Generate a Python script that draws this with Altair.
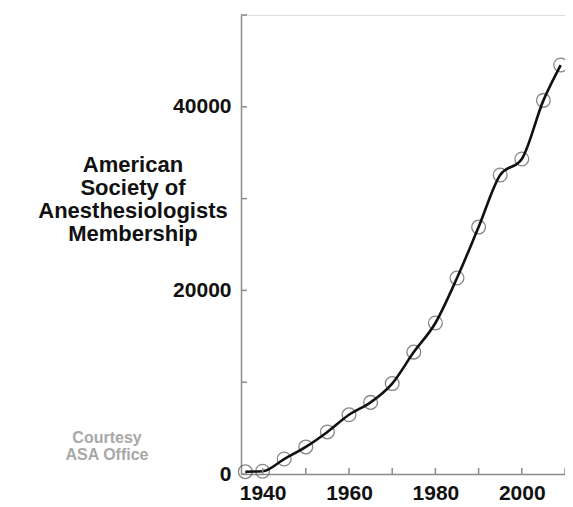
import altair as alt
import pandas as pd

years = [1936, 1940, 1945, 1950, 1955, 1960, 1965, 1970, 1975, 1980, 1985, 1990, 1995, 2000, 2005, 2009]
members = [250, 300, 1630, 2950, 4580, 6450, 7800, 9850, 13280, 16450, 21350, 26900, 32570, 34310, 40700, 44550]

y_ticks = [0, 10000, 20000, 30000, 40000, 50000]
y_labels = [0, 20000, 40000]
x_ticks = [1940, 1950, 1960, 1970, 1980, 1990, 2000, 2010]
x_labels = [1940, 1960, 1980, 2000]

title_lines = ["American", "Society  of", "Anesthesiologists", "Membership"]
credit_lines = ["Courtesy", "ASA  Office"]

W, H = 324, 459
FONT = "Liberation Sans"
AXIS_GRAY = "#8a8a8a"

df = pd.DataFrame({"year": years, "members": members})
ydf = pd.DataFrame({"v": y_ticks})
xdf = pd.DataFrame({"v": x_ticks})

xscale = alt.Scale(domain=[1935, 2010], nice=False, zero=False)
yscale = alt.Scale(domain=[0, 50000], nice=False)

x_enc = alt.X(
    "year:Q", scale=xscale, title=None,
    axis=alt.Axis(values=x_labels, format="d", tickSize=0, ticks=False, grid=False,
                  domainColor=AXIS_GRAY, domainWidth=1.5, labelFont=FONT,
                  labelFontSize=21, labelFontWeight="bold", labelColor="#111",
                  labelPadding=8, labelFlush=False),
)
y_enc = alt.Y(
    "members:Q", scale=yscale, title=None,
    axis=alt.Axis(values=y_labels, format="d", tickSize=0, ticks=False, grid=False,
                  domainColor=AXIS_GRAY, domainWidth=1.5, labelFont=FONT,
                  labelFontSize=21, labelFontWeight="bold", labelColor="#111",
                  labelPadding=10, labelFlush=False),
)

points = alt.Chart(df).mark_point(
    shape="circle", filled=False, size=190, stroke="#555", strokeWidth=1.3
).encode(x=x_enc, y=y_enc)

line = alt.Chart(df).mark_line(
    color="#111", strokeWidth=2.6, interpolate="monotone"
).encode(x=alt.X("year:Q", scale=xscale), y=alt.Y("members:Q", scale=yscale))

yticks = alt.Chart(ydf).mark_rule(color=AXIS_GRAY, strokeWidth=1.5).encode(
    y=alt.Y("v:Q", scale=yscale), x=alt.value(0), x2=alt.value(6)
)
xticks = alt.Chart(xdf).mark_rule(color=AXIS_GRAY, strokeWidth=1.5).encode(
    x=alt.X("v:Q", scale=xscale), y=alt.value(H), y2=alt.value(H - 6)
)

title_txt = alt.Chart(pd.DataFrame({"t": [title_lines]})).mark_text(
    font=FONT, fontSize=22, fontWeight="bold", color="#111", align="center",
    baseline="alphabetic", lineHeight=23
).encode(text="t", x=alt.value(-108), y=alt.value(157))

credit_txt = alt.Chart(pd.DataFrame({"t": [credit_lines]})).mark_text(
    font=FONT, fontSize=16, fontWeight="bold", color="#a8a8a8", align="center",
    baseline="alphabetic", lineHeight=17
).encode(text="t", x=alt.value(-134), y=alt.value(428))

chart = alt.layer(points, line, yticks, xticks, title_txt, credit_txt).properties(
    width=W, height=H,
    autosize=alt.AutoSizeParams(type="none"),
    padding={"left": 233, "top": 7, "right": 0, "bottom": 34},
).configure_view(stroke=None).configure(background="white")

chart.save("out.html", embed_options={"renderer": "svg", "actions": False})
